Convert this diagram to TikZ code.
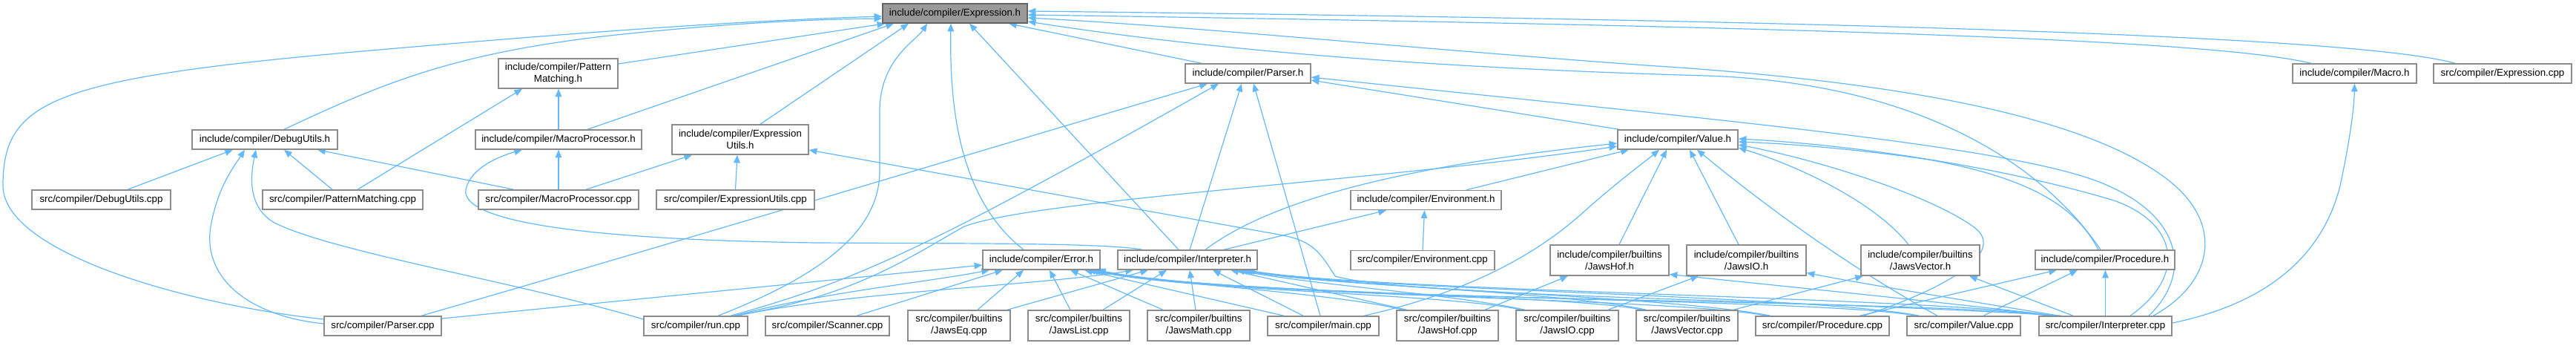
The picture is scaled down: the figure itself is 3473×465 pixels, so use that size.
\documentclass[tikz,border=0pt]{standalone}
\usepackage{fontspec}
\setmainfont{Liberation Sans}
\usetikzlibrary{arrows.meta,backgrounds}
\definecolor{edgeblue}{HTML}{63B8FF}
\definecolor{boxline}{HTML}{8C8C8C}
\definecolor{rootfill}{HTML}{999999}
\definecolor{rootline}{HTML}{666666}
\begin{document}
\begin{tikzpicture}[x=0.75pt,y=-0.75pt,
 box/.style={draw=boxline, fill=white, line width=1.1pt, inner sep=0pt, minimum height=26*0.75pt, align=center, font=\fontsize{10}{12}\selectfont},
 tall/.style={minimum height=#1*0.75pt},
 bw/.style={minimum width=#1*0.75pt},
 dx/.style={xshift=#1*0.75pt},
 dy/.style={yshift=-(#1)*0.75pt},
 lnk/.style={draw=edgeblue, line width=0.9pt, -{Triangle[length=8pt,width=6.5pt]}},
 ]
\useasboundingbox (0,0) rectangle (3473,465);
% ---------- nodes ----------
\node[box, bw=195, fill=rootfill, draw=rootline] (exph) at (1287.5,18) {include/compiler/Expression.h};
\node[box, bw=161, tall=40] (patth) at (752.5,99) {include/compiler/Pattern\\Matching.h};
\node[box, bw=169] (parserh) at (1682.5,99) {include/compiler/Parser.h};
\node[box, bw=167] (macroh) at (3174.5,99) {include/compiler/Macro.h};
\node[box, bw=186] (exprcpp) at (3374,99) {src/compiler/Expression.cpp};
\node[box, bw=196] (debugh) at (357,188) {include/compiler/DebugUtils.h};
\node[box, bw=224] (macroproch) at (753,188) {include/compiler/MacroProcessor.h};
\node[box, bw=184, tall=40] (exprutilsh) at (998,188) {include/compiler/Expression\\Utils.h};
\node[box, bw=162] (valueh) at (2262,188) {include/compiler/Value.h};
\node[box, bw=187] (debugcpp) at (136.5,269) {src/compiler/DebugUtils.cpp};
\node[box, bw=216] (pattcpp) at (462,269) {src/compiler/PatternMatching.cpp};
\node[box, bw=216] (macroproccpp) at (753,269) {src/compiler/MacroProcessor.cpp};
\node[box, bw=213] (exprutilscpp) at (991.5,269) {src/compiler/ExpressionUtils.cpp};
\node[box, bw=203] (envh) at (1922.5,269.5) {include/compiler/Environment.h};
\node[box, bw=194] (envcpp) at (1918,350.5) {src/compiler/Environment.cpp};
\node[box, bw=158] (errorh) at (1404,350) {include/compiler/Error.h};
\node[box, bw=188] (interph) at (1601,350) {include/compiler/Interpreter.h};
\node[box, bw=160, tall=41] (jawshofh) at (2170,350.5) {include/compiler/builtins\\/JawsHof.h};
\node[box, bw=161, tall=41] (jawsioh) at (2354.5,350.5) {include/compiler/builtins\\/JawsIO.h};
\node[box, bw=160, tall=41] (jawsvech) at (2589,350.5) {include/compiler/builtins\\/JawsVector.h};
\node[box, bw=188] (procedureh) at (2838,350) {include/compiler/Procedure.h};
\node[box, bw=158] (parsercpp) at (516,439) {src/compiler/Parser.cpp};
\node[box, bw=140] (runcpp) at (938,439) {src/compiler/run.cpp};
\node[box, bw=167] (scannercpp) at (1115.5,439) {src/compiler/Scanner.cpp};
\node[box, bw=138, tall=41] (jawseqcpp) at (1293,438.5) {src/compiler/builtins\\/JawsEq.cpp};
\node[box, bw=137, tall=41] (jawslistcpp) at (1454.5,438.5) {src/compiler/builtins\\/JawsList.cpp};
\node[box, bw=138, tall=41] (jawsmathcpp) at (1616,438.5) {src/compiler/builtins\\/JawsMath.cpp};
\node[box, bw=150] (maincpp) at (1784,439) {src/compiler/main.cpp};
\node[box, bw=137, tall=41] (jawshofcpp) at (1951.5,438.5) {src/compiler/builtins\\/JawsHof.cpp};
\node[box, bw=138, tall=41] (jawsiocpp) at (2113,438.5) {src/compiler/builtins\\/JawsIO.cpp};
\node[box, bw=137, tall=41] (jawsveccpp) at (2274.5,438.5) {src/compiler/builtins\\/JawsVector.cpp};
\node[box, bw=180] (procedurecpp) at (2457,439) {src/compiler/Procedure.cpp};
\node[box, bw=153] (valuecpp) at (2647.5,439) {src/compiler/Value.cpp};
\node[box, bw=179] (interpcpp) at (2838.5,439) {src/compiler/Interpreter.cpp};
% ---------- edges ----------
\begin{scope}[on background layer]
% to Expression.h
\draw[lnk] ([dy=-9]parsercpp.west) .. controls (250,410) and (4,340) .. (4,250) .. controls (4,135) and (70,105) .. (500,68) .. controls (800,42) and (1000,28) .. ([dy=4]exph.west);
\draw[lnk] ([dx=26]debugh.north) .. controls (520,110) and (620,68) .. (850,45) .. controls (1000,30) and (1100,26) .. ([dy=7]exph.west);
\draw[lnk] ([dy=-13]patth.east) -- ([dx=4]exph.south west);
\draw[lnk] ([dx=39]macroproch.north) -- ([dx=-82.5]exph.south);
\draw[lnk] ([dx=27]exprutilsh.north) -- ([dx=-62.5]exph.south);
\draw[lnk] ([dx=30]runcpp.north) .. controls (1110,370) and (1186,310) .. (1186,230) -- (1186,150) .. controls (1186,80) and (1235,55) .. ([dx=-37.5]exph.south);
\draw[lnk] ([dx=-24]errorh.north) .. controls (1295,270) and (1280,150) .. ([dx=-5.5]exph.south);
\draw[lnk] ([dx=-12]interph.north) -- ([dx=19.5]exph.south);
\draw[lnk] ([dx=-62.5]parserh.north) -- ([dx=72.5]exph.south);
\draw[lnk] ([dx=-58.5]macroh.north) .. controls (3000,58) and (2600,38) .. ([dy=2]exph.east);
\draw[lnk] ([dx=-64]exprcpp.north) .. controls (3200,55) and (2700,30) .. ([dy=-3]exph.east);
\draw[lnk] ([dx=-6]procedureh.north) .. controls (2760,230) and (2600,112) .. (2300,102) .. controls (1950,92) and (1650,70) .. ([dy=11]exph.east);
\draw[lnk] ([dx=64.5]interpcpp.north) .. controls (2985,380) and (3000,300) .. (2920,240) .. controls (2820,165) and (2600,112) .. (2219,88) .. controls (1900,65) and (1600,35) .. ([dy=6]exph.east);
% to Parser.h
\draw[lnk] ([dx=52]parsercpp.north) .. controls (900,330) and (1400,180) .. ([dx=-54.5]parserh.south);
\draw[lnk] ([dx=47]runcpp.north) .. controls (1150,380) and (1250,335) .. ([dx=-39.5]parserh.south);
\draw[lnk] ([dx=3]interph.north) -- ([dx=-8.5]parserh.south);
\draw[lnk] ([dx=-4]maincpp.north) -- ([dx=7.5]parserh.south);
\draw[lnk] ([dx=58.5]interpcpp.north) .. controls (2955,370) and (2945,290) .. (2830,245) .. controls (2700,195) and (2300,160) .. ([dy=5]parserh.east);
\draw[lnk] ([dx=-79]valueh.north) -- ([dy=9]parserh.east);
% to DebugUtils.h
\draw[lnk] ([dx=35.5]debugcpp.north) -- ([dx=-43]debugh.south);
\draw[lnk] ([dy=-3]parsercpp.west) .. controls (330,425) and (270,370) .. (285,300) .. controls (295,250) and (315,225) .. ([dx=-27]debugh.south);
\draw[lnk] ([dy=-9]runcpp.west) .. controls (700,380) and (450,340) .. (370,300) .. controls (335,280) and (337,240) .. ([dx=-12]debugh.south);
\draw[lnk] ([dx=-14]pattcpp.north) -- ([dx=26]debugh.south);
\draw[lnk] ([dx=-60]macroproccpp.north) -- ([dx=71]debugh.south);
% to PatternMatching.h
\draw[lnk] (macroproch.north) -- (macroproch.north |- patth.south);
\draw[lnk] ([dx=20]pattcpp.north) -- ([dx=-48.5]patth.south);
% to MacroProcessor.h
\draw[lnk] (macroproccpp.north) -- (macroproch.south);
\draw[lnk] ([dx=-61]interph.north) .. controls (1490,327) and (1300,328) .. (1100,327) .. controls (800,323) and (620,300) .. (628,255) .. controls (635,225) and (675,210) .. ([dx=-49]macroproch.south);
% to ExpressionUtils.h
\draw[lnk] (exprutilscpp.north) -- ([dx=-4]exprutilsh.south);
\draw[lnk] ([dx=37]macroproccpp.north) -- ([dx=-65]exprutilsh.south);
\draw[lnk] ([dx=-58.5]interpcpp.north) .. controls (2400,402) and (1900,400) .. (1800,372) .. controls (1780,340) and (1770,325) .. (1730,317) -- ([dy=14]exprutilsh.east);
% to Value.h
\draw[lnk] ([dx=54.5]envh.north) -- ([dx=-66]valueh.south);
\draw[lnk] ([dx=24]interph.north) .. controls (1700,280) and (1850,228) .. ([dy=5]valueh.west);
\draw[lnk] ([dx=50]runcpp.north) .. controls (1150,400) and (1220,350) .. (1300,305) .. controls (1400,268) and (1850,245) .. ([dy=9]valueh.west);
\draw[lnk] ([dx=55]maincpp.north) .. controls (1950,400) and (2050,360) .. (2130,290) .. controls (2180,245) and (2215,220) .. ([dx=-25]valueh.south);
\draw[lnk] ([dx=13]jawshofh.north) -- ([dx=-15]valueh.south);
\draw[lnk] ([dx=-10.5]jawsioh.north) -- ([dx=16]valueh.south);
\draw[lnk] ([dx=-35.5]valuecpp.north) .. controls (2530,380) and (2420,310) .. ([dx=26]valueh.south);
\draw[lnk] ([dx=-16]jawsvech.north) .. controls (2530,275) and (2430,225) .. ([dy=11]valueh.east);
\draw[lnk] ([dx=55]procedurecpp.north) .. controls (2620,390) and (2710,340) .. (2660,305) .. controls (2600,262) and (2450,215) .. ([dy=7]valueh.east);
\draw[lnk] ([dx=-9]procedureh.north) .. controls (2800,280) and (2740,240) .. (2600,215) .. controls (2500,200) and (2400,193) .. ([dy=3]valueh.east);
\draw[lnk] ([dx=33.5]interpcpp.north) .. controls (2950,370) and (2935,300) .. (2850,270) .. controls (2700,225) and (2500,195) .. ([dy=-1]valueh.east);
% to Environment.h
\draw[lnk] ([dx=49]interph.north) -- ([dx=-53.5]envh.south);
\draw[lnk] (envcpp.north) -- ([dx=-2]envh.south);
% to Error.h
\draw[lnk] ([dy=-10]parsercpp.east) -- ([dy=7]errorh.west);
\draw[lnk] ([dx=53]runcpp.north) .. controls (1100,395) and (1250,380) .. ([dx=-70]errorh.south);
\draw[lnk] ([dx=39.5]scannercpp.north) -- ([dx=-52]errorh.south);
\draw[lnk] ([dx=25]jawseqcpp.north) -- ([dx=-24]errorh.south);
\draw[lnk] ([dx=-11.5]jawslistcpp.north) -- ([dx=11]errorh.south);
\draw[lnk] ([dx=-48]jawsmathcpp.north) -- ([dx=39]errorh.south);
\draw[lnk] ([dx=-53]maincpp.north) -- ([dx=58]errorh.south);
\draw[lnk] ([dx=-60]jawshofcpp.north) .. controls (1800,395) and (1600,385) .. ([dx=62]errorh.south);
\draw[lnk] ([dx=-62]jawsiocpp.north) .. controls (1950,395) and (1600,392) .. ([dx=66]errorh.south);
\draw[lnk] ([dx=-60]jawsveccpp.north) .. controls (2100,395) and (1620,395) .. ([dx=69]errorh.south);
\draw[lnk] ([dx=-75]procedurecpp.north) .. controls (2250,400) and (1650,400) .. ([dx=72]errorh.south);
\draw[lnk] ([dx=-65]valuecpp.north) .. controls (2450,400) and (1680,405) .. ([dx=74]errorh.south);
\draw[lnk] ([dx=-75]interpcpp.north) .. controls (2600,402) and (1700,408) .. ([dx=76]errorh.south);
% to Interpreter.h
\draw[lnk] ([dx=56]runcpp.north) .. controls (1150,392) and (1400,385) .. ([dx=-73]interph.south);
\draw[lnk] ([dx=65]jawseqcpp.north) -- ([dx=-53]interph.south);
\draw[lnk] ([dx=32.5]jawslistcpp.north) -- ([dx=-28]interph.south);
\draw[lnk] ([dx=-4]jawsmathcpp.north) -- ([dx=3]interph.south);
\draw[lnk] ([dx=-27]maincpp.north) -- ([dx=34]interph.south);
\draw[lnk] ([dx=-55]jawshofcpp.north) -- ([dx=58]interph.south);
\draw[lnk] ([dx=-57]jawsiocpp.north) .. controls (1950,395) and (1780,385) .. ([dx=66]interph.south);
\draw[lnk] ([dx=-55]jawsveccpp.north) .. controls (2100,392) and (1800,385) .. ([dx=70]interph.south);
\draw[lnk] ([dx=-70]procedurecpp.north) .. controls (2250,398) and (1800,388) .. ([dx=74]interph.south);
\draw[lnk] ([dx=-60]valuecpp.north) .. controls (2450,398) and (1820,390) .. ([dx=77]interph.south);
\draw[lnk] ([dx=-70]interpcpp.north) .. controls (2600,400) and (1850,392) .. ([dx=80]interph.south);
% builtins headers
\draw[lnk] ([dx=50.5]jawshofcpp.north) -- ([dx=-56]jawshofh.south);
\draw[lnk] ([dx=-66]interpcpp.north) .. controls (2600,405) and (2400,385) .. ([dy=19]jawshofh.east);
\draw[lnk] ([dx=55]jawsiocpp.north) -- ([dx=-64.5]jawsioh.south);
\draw[lnk] ([dx=-62]interpcpp.north) .. controls (2650,405) and (2500,380) .. ([dy=17]jawsioh.east);
\draw[lnk] ([dx=62.5]jawsveccpp.north) -- ([dx=-77]jawsvech.south);
\draw[lnk] ([dx=-43.5]interpcpp.north) -- ([dx=66]jawsvech.south);
% to Procedure.h
\draw[lnk] ([dx=50]procedurecpp.north) -- ([dx=-65]procedureh.south);
\draw[lnk] ([dx=26.5]valuecpp.north) -- ([dx=-37]procedureh.south);
\draw[lnk] (interpcpp.north) -- (interpcpp.north |- procedureh.south);
% to Macro.h
\draw[lnk] ([dy=-4]interpcpp.east) .. controls (3050,410) and (3130,350) .. (3155,250) .. controls (3170,180) and (3174,140) .. (macroh.south);
\end{scope}
\end{tikzpicture}
\end{document}
